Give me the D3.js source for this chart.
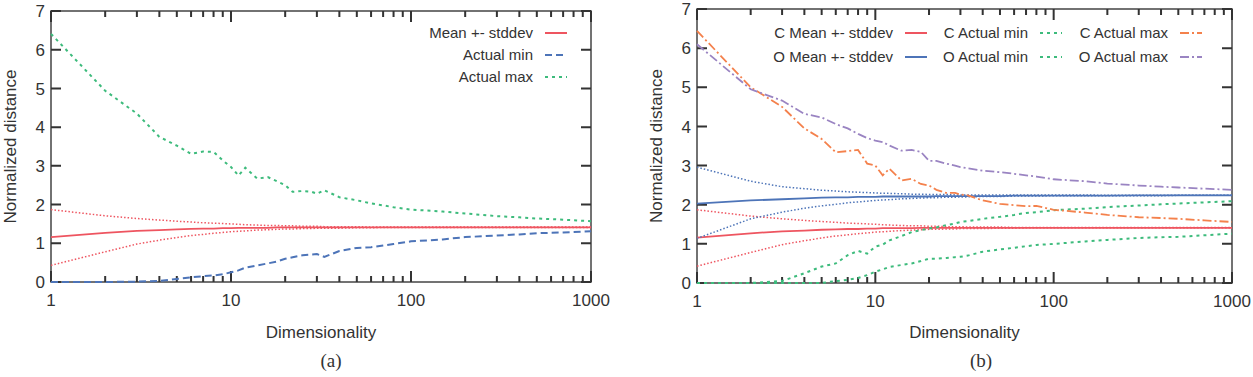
<!DOCTYPE html>
<html>
<head>
<meta charset="utf-8">
<script src="https://cdn.jsdelivr.net/npm/d3@7"></script>
<style>
body { margin: 0; background: #fff; }
svg { display: block; }
text { font-family: "Liberation Sans", Arial, sans-serif; fill: #333; }
</style>
</head>
<body>
<svg id="chart" width="1253" height="377"></svg>
<script>
// dimensionality sample points (x values)
const dims = [1, 2, 3, 4, 5, 6, 7, 8, 9, 10, 11, 12, 14, 16, 18, 20, 22, 25, 28, 30, 33, 40, 50, 60, 70, 80, 100, 150, 200, 300, 400, 500, 700, 1000];

// panel (a) / C series
const cMean  = [1.16, 1.27, 1.32, 1.34, 1.36, 1.37, 1.38, 1.38, 1.39, 1.39, 1.40, 1.40, 1.40, 1.40, 1.41, 1.41, 1.41, 1.41, 1.41, 1.41, 1.41, 1.41, 1.41, 1.41, 1.41, 1.41, 1.41, 1.41, 1.41, 1.41, 1.41, 1.41, 1.41, 1.41];
const cUpper = [1.87, 1.71, 1.64, 1.60, 1.57, 1.55, 1.53, 1.52, 1.51, 1.50, 1.49, 1.48, 1.47, 1.46, 1.46, 1.45, 1.45, 1.44, 1.44, 1.44, 1.43, 1.43, 1.43, 1.42, 1.42, 1.42, 1.42, 1.42, 1.42, 1.42, 1.42, 1.42, 1.42, 1.42];
const cLower = [0.43, 0.78, 0.98, 1.08, 1.15, 1.20, 1.23, 1.26, 1.28, 1.30, 1.31, 1.32, 1.34, 1.35, 1.36, 1.37, 1.37, 1.38, 1.38, 1.39, 1.39, 1.39, 1.40, 1.40, 1.41, 1.41, 1.41, 1.41, 1.41, 1.41, 1.41, 1.41, 1.41, 1.41];
const aMin   = [0, 0, 0.01, 0.03, 0.08, 0.12, 0.15, 0.17, 0.20, 0.25, 0.30, 0.37, 0.43, 0.48, 0.53, 0.60, 0.64, 0.69, 0.71, 0.72, 0.65, 0.80, 0.88, 0.90, 0.94, 0.98, 1.05, 1.10, 1.16, 1.20, 1.23, 1.26, 1.28, 1.31];
const aMax   = [6.41, 4.94, 4.35, 3.75, 3.52, 3.31, 3.37, 3.36, 3.14, 2.97, 2.75, 2.95, 2.67, 2.71, 2.60, 2.50, 2.33, 2.35, 2.33, 2.28, 2.37, 2.19, 2.11, 2.03, 1.98, 1.93, 1.87, 1.82, 1.77, 1.70, 1.67, 1.64, 1.61, 1.57];

// panel (b) extra series
const cMin   = [0, 0, 0, 0, 0, 0.05, 0.08, 0.13, 0.20, 0.29, 0.35, 0.41, 0.46, 0.50, 0.56, 0.62, 0.62, 0.64, 0.66, 0.67, 0.70, 0.80, 0.86, 0.90, 0.94, 0.97, 1.00, 1.06, 1.10, 1.15, 1.17, 1.18, 1.22, 1.26];
const cMax   = [6.44, 5.00, 4.50, 3.95, 3.68, 3.34, 3.37, 3.40, 3.05, 3.00, 2.75, 2.92, 2.62, 2.66, 2.53, 2.49, 2.38, 2.30, 2.30, 2.26, 2.24, 2.11, 2.02, 1.99, 1.96, 1.97, 1.87, 1.80, 1.74, 1.68, 1.66, 1.64, 1.60, 1.56];
const oMean  = [2.03, 2.11, 2.14, 2.16, 2.18, 2.19, 2.19, 2.20, 2.20, 2.20, 2.21, 2.21, 2.21, 2.21, 2.21, 2.21, 2.22, 2.22, 2.22, 2.22, 2.22, 2.22, 2.22, 2.23, 2.23, 2.23, 2.23, 2.23, 2.23, 2.24, 2.24, 2.24, 2.24, 2.24];
const oUpper = [2.96, 2.60, 2.46, 2.41, 2.37, 2.35, 2.33, 2.32, 2.31, 2.30, 2.29, 2.29, 2.28, 2.27, 2.27, 2.26, 2.26, 2.26, 2.25, 2.25, 2.25, 2.25, 2.25, 2.25, 2.25, 2.25, 2.25, 2.25, 2.24, 2.24, 2.24, 2.24, 2.24, 2.24];
const oLower = [1.14, 1.64, 1.81, 1.91, 1.97, 2.01, 2.05, 2.07, 2.09, 2.11, 2.12, 2.13, 2.15, 2.16, 2.17, 2.18, 2.18, 2.19, 2.19, 2.20, 2.20, 2.21, 2.21, 2.22, 2.22, 2.22, 2.23, 2.23, 2.23, 2.23, 2.23, 2.24, 2.24, 2.24];
const oMin   = [0, 0, 0.05, 0.25, 0.42, 0.50, 0.71, 0.82, 0.75, 0.93, 0.98, 1.09, 1.20, 1.30, 1.35, 1.39, 1.42, 1.48, 1.52, 1.56, 1.58, 1.64, 1.69, 1.74, 1.79, 1.81, 1.86, 1.90, 1.94, 1.98, 2.01, 2.03, 2.06, 2.09];
const oMax   = [6.10, 4.95, 4.66, 4.32, 4.23, 4.06, 3.95, 3.81, 3.70, 3.64, 3.60, 3.51, 3.38, 3.40, 3.35, 3.12, 3.12, 3.05, 3.00, 2.96, 2.93, 2.87, 2.83, 2.79, 2.75, 2.72, 2.65, 2.60, 2.54, 2.49, 2.46, 2.44, 2.41, 2.38];

const yTicks = [0, 1, 2, 3, 4, 5, 6, 7];
const xMajor = [1, 10, 100, 1000];
const xLabels = ["1", "10", "100", "1000"];

const RED = "#ee5560", BLUE = "#4d74b8", GREEN = "#3dbb7c", ORANGE = "#f4814c", PURPLE = "#9a84c2";
const SOLID = null, DOT = "1.5,2", DASH = "7,4", GDOT = "3,4", DASHDOT = "9,3,2,3";
const AXIS = "#333";

const svg = d3.select("#chart");

function drawPanel(box, series, legend, tag) {
    const x = d3.scaleLog().domain([1, 1000]).range([box.left, box.right]);
    const y = d3.scaleLinear().domain([0, 7]).range([box.bottom, box.top]);
    const g = svg.append("g");

    const minor = [];
    [1, 10, 100].forEach(dec => d3.range(2, 10).forEach(k => minor.push(k * dec)));

    // frame
    g.append("rect")
        .attr("x", box.left).attr("y", box.top)
        .attr("width", box.right - box.left).attr("height", box.bottom - box.top)
        .attr("fill", "none").attr("stroke", "#444").attr("stroke-width", 1.5);

    // tick marks, inward: one path for the whole panel
    let d = "";
    yTicks.forEach(v => {
        d += `M${box.left},${y(v)}h10M${box.right},${y(v)}h-10`;
    });
    xMajor.map(v => [v, 11]).concat(minor.map(v => [v, 6])).forEach(([v, len]) => {
        d += `M${x(v)},${box.bottom}v${-len}M${x(v)},${box.top}v${len}`;
    });
    g.append("path").attr("d", d)
        .attr("fill", "none").attr("stroke", AXIS).attr("stroke-width", 2);

    // tick labels
    yTicks.forEach(v => {
        g.append("text").attr("x", box.left - 6).attr("y", y(v)).attr("dy", "0.36em")
            .attr("text-anchor", "end").style("font-size", "17px").text(v);
    });
    xMajor.forEach((v, i) => {
        g.append("text").attr("x", x(v)).attr("y", box.bottom + 24)
            .attr("text-anchor", "middle").style("font-size", "17px").text(xLabels[i]);
    });

    // axis titles
    g.append("text").attr("x", (box.left + box.right) / 2).attr("y", 338)
        .attr("text-anchor", "middle").style("font-size", "17px").text("Dimensionality");
    g.append("text")
        .attr("transform", `translate(${box.left - 35},${(box.top + box.bottom) / 2}) rotate(-90)`)
        .attr("text-anchor", "middle").style("font-size", "17px").text("Normalized distance");
    g.append("text").attr("x", box.tagX).attr("y", 367)
        .attr("text-anchor", "middle").style("font-family", "'Liberation Serif', serif")
        .style("font-size", "19px").text(tag);

    // series
    const line = d3.line().x(d => x(d[0])).y(d => y(d[1]));
    series.forEach(s => {
        g.append("path")
            .datum(dims.map((d, i) => [d, s.values[i]]))
            .attr("d", line)
            .attr("fill", "none")
            .attr("stroke", s.color)
            .attr("stroke-width", s.width)
            .attr("stroke-dasharray", s.dash);
    });

    // legend
    legend.forEach(e => {
        g.append("text").attr("x", e.x).attr("y", e.y).attr("dy", "0.36em")
            .attr("text-anchor", "end").style("font-size", "15px").text(e.label);
        g.append("line").attr("x1", e.x + 12).attr("x2", e.x + 34).attr("y1", e.y).attr("y2", e.y)
            .attr("stroke", e.color).attr("stroke-width", e.width).attr("stroke-dasharray", e.dash);
    });
}

// panel (a)
drawPanel(
    { left: 51, right: 591, top: 11, bottom: 282, tagX: 331 },
    [
        { values: cUpper, color: RED, width: 1.5, dash: DOT },
        { values: cLower, color: RED, width: 1.5, dash: DOT },
        { values: cMean, color: RED, width: 1.8, dash: SOLID },
        { values: aMin, color: BLUE, width: 2, dash: DASH },
        { values: aMax, color: GREEN, width: 2, dash: GDOT }
    ],
    [
        { label: "Mean +- stddev", x: 533, y: 33, color: RED, width: 2, dash: SOLID },
        { label: "Actual min", x: 533, y: 55, color: BLUE, width: 2, dash: DASH },
        { label: "Actual max", x: 533, y: 77, color: GREEN, width: 2, dash: GDOT }
    ],
    "(a)"
);

// panel (b)
drawPanel(
    { left: 697, right: 1232, top: 9, bottom: 283, tagX: 981 },
    [
        { values: cUpper, color: RED, width: 1.5, dash: DOT },
        { values: cLower, color: RED, width: 1.5, dash: DOT },
        { values: cMean, color: RED, width: 1.8, dash: SOLID },
        { values: oUpper, color: BLUE, width: 1.5, dash: DOT },
        { values: oLower, color: BLUE, width: 1.5, dash: DOT },
        { values: oMean, color: BLUE, width: 1.8, dash: SOLID },
        { values: cMin, color: GREEN, width: 2, dash: GDOT },
        { values: oMin, color: GREEN, width: 2, dash: GDOT },
        { values: cMax, color: ORANGE, width: 1.8, dash: DASHDOT },
        { values: oMax, color: PURPLE, width: 1.8, dash: DASHDOT }
    ],
    [
        { label: "C Mean +- stddev", x: 893, y: 33, color: RED, width: 2, dash: SOLID },
        { label: "O Mean +- stddev", x: 893, y: 57, color: BLUE, width: 2, dash: SOLID },
        { label: "C Actual min", x: 1028, y: 33, color: GREEN, width: 2, dash: GDOT },
        { label: "O Actual min", x: 1028, y: 57, color: GREEN, width: 2, dash: GDOT },
        { label: "C Actual max", x: 1168, y: 33, color: ORANGE, width: 1.8, dash: DASHDOT },
        { label: "O Actual max", x: 1168, y: 57, color: PURPLE, width: 1.8, dash: DASHDOT }
    ],
    "(b)"
);
</script>
</body>
</html>
